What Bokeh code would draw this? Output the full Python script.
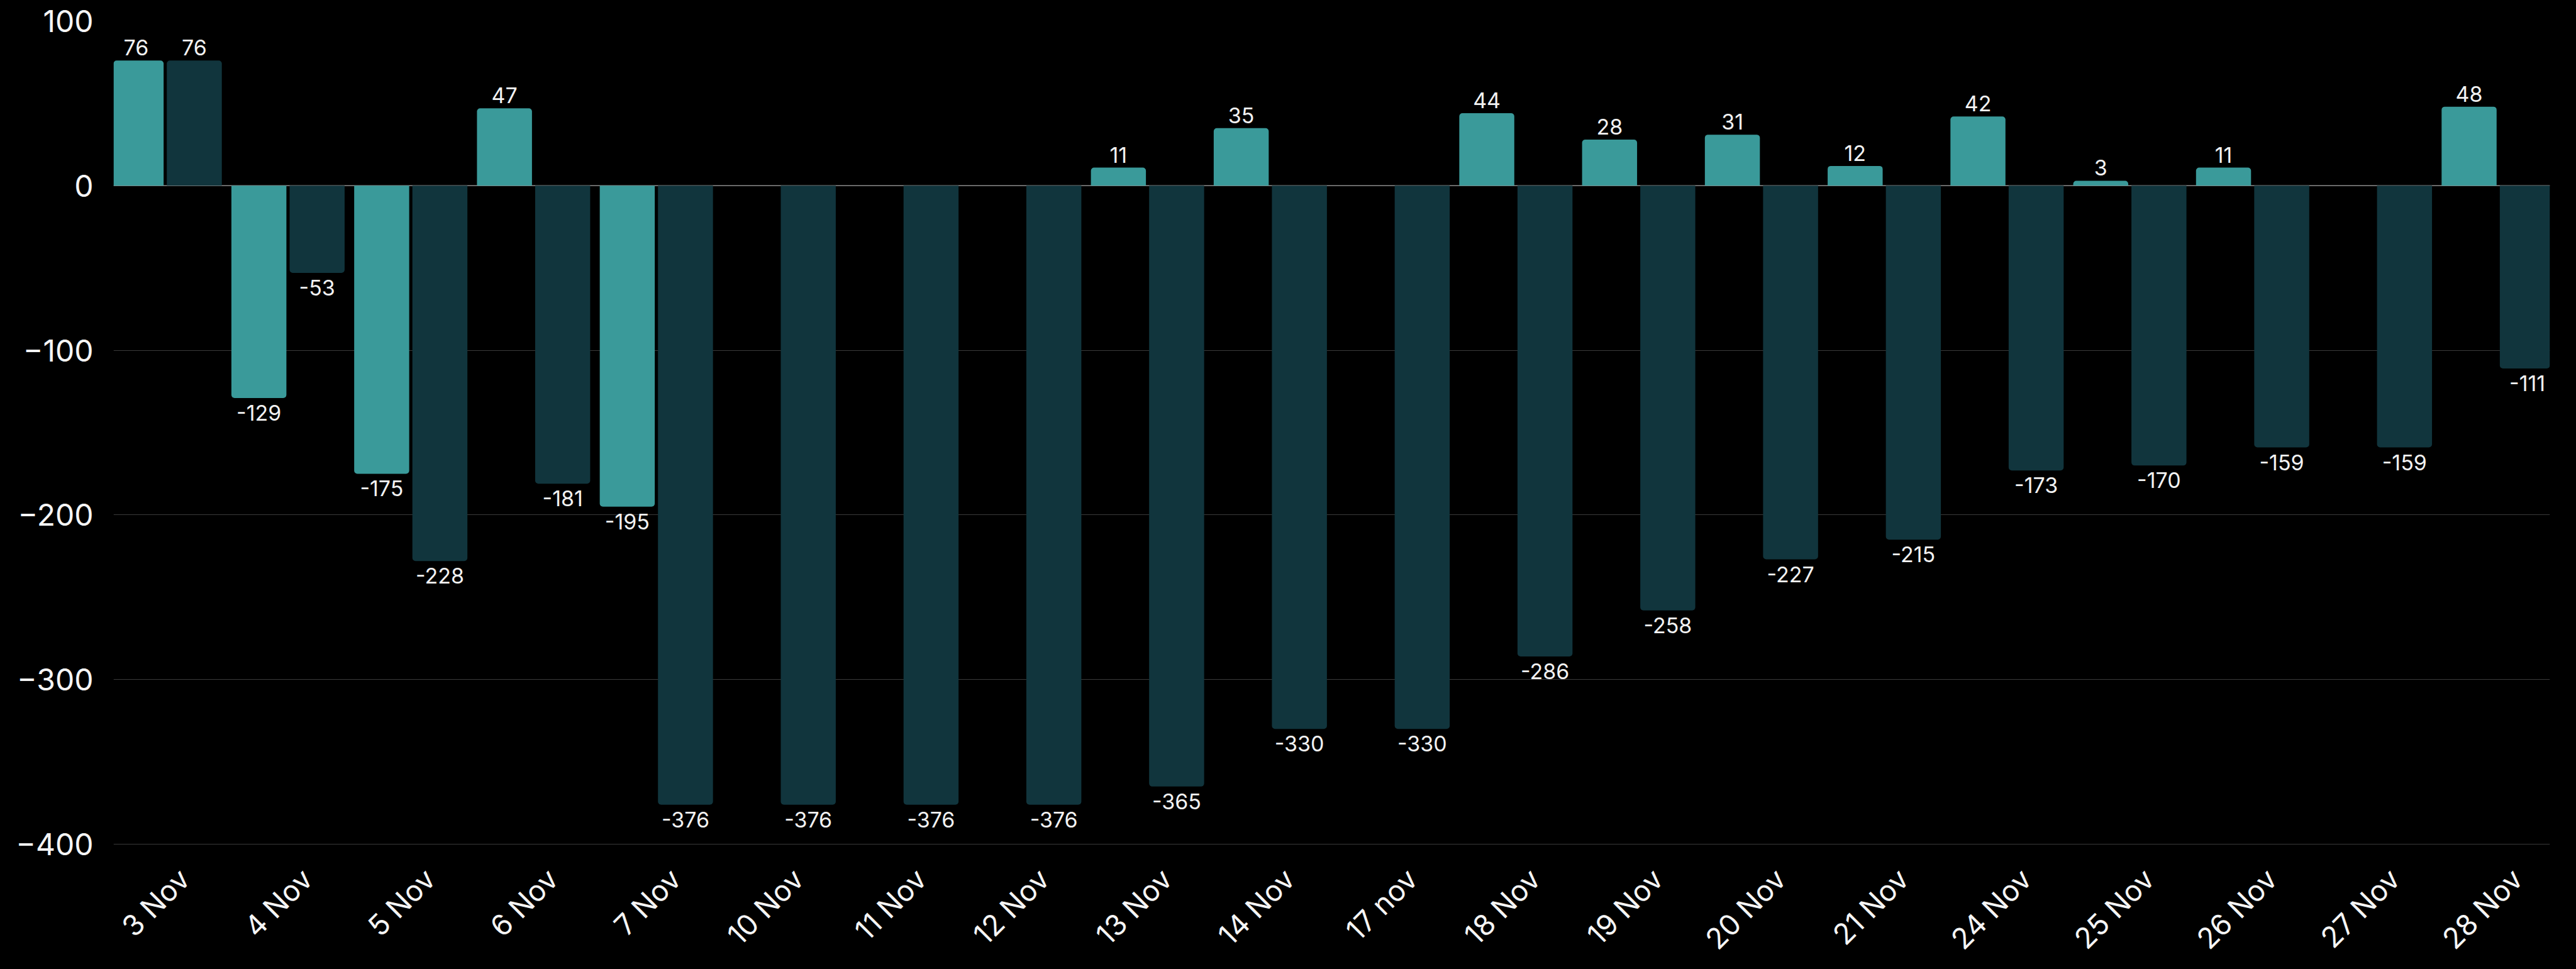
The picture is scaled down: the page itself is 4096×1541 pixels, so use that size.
import math
from bokeh.plotting import figure
from bokeh.models import ColumnDataSource, FactorRange, Range1d, Span, FixedTicker
from bokeh.transform import dodge
from bokeh.embed import file_html
from bokeh.resources import INLINE
from bokeh.core.properties import value

dates = ["3 Nov", "4 Nov", "5 Nov", "6 Nov", "7 Nov", "10 Nov", "11 Nov", "12 Nov",
         "13 Nov", "14 Nov", "17 nov", "18 Nov", "19 Nov", "20 Nov", "21 Nov",
         "24 Nov", "25 Nov", "26 Nov", "27 Nov", "28 Nov"]
series_a = [76, -129, -175, 47, -195, None, None, None, 11, 35, None, 44, 28, 31, 12,
            42, 3, 11, None, 48]
series_b = [76, -53, -228, -181, -376, -376, -376, -376, -365, -330, -330, -286, -258,
            -227, -215, -173, -170, -159, -159, -111]
y_ticks = [-400, -300, -200, -100, 0, 100]
Y_MIN, Y_MAX = -400, 100

LIGHT = "#3a9a9a"
DARK = "#11353d"
FONT = "Inter"

# layout (canvas pixels): frame top, the -400 line, canvas bottom
W, H = 4080, 1525
TOP, AXIS_Y = 33, 1342
per_px = (Y_MAX - Y_MIN) / (AXIS_Y - TOP)
y_start = Y_MIN - (H - AXIS_Y) * per_px   # room below the axis for the date labels

p = figure(width=W, height=H, output_backend="svg", toolbar_location=None,
           x_range=FactorRange(factors=dates, range_padding=-0.079,
                               range_padding_units="absolute"),
           y_range=Range1d(y_start, Y_MAX),
           x_axis_location=None,
           background_fill_color="black", border_fill_color="black",
           min_border_left=180, min_border_right=26, min_border_top=TOP,
           min_border_bottom=0)
p.outline_line_color = None


def split(vals):
    pos = dict(x=[], top=[], lab=[])
    neg = dict(x=[], bottom=[], lab=[])
    for d, v in zip(dates, vals):
        if v is None:
            continue
        if v >= 0:
            pos["x"].append(d); pos["top"].append(v); pos["lab"].append(str(v))
        else:
            neg["x"].append(d); neg["bottom"].append(v); neg["lab"].append(str(v))
    return ColumnDataSource(pos), ColumnDataSource(neg)


R = 5
for vals, off, color in ((series_a, -0.237, LIGHT), (series_b, 0.237, DARK)):
    pos, neg = split(vals)
    xd = dodge("x", off, range=p.x_range)
    p.vbar(x=xd, top="top", bottom=0, width=0.448, source=pos, fill_color=color,
           line_color=None, border_radius=(R, R, 0, 0))
    p.vbar(x=xd, top=0, bottom="bottom", width=0.448, source=neg, fill_color=color,
           line_color=None, border_radius=(0, 0, R, R))
    p.text(x=xd, y="top", text="lab", source=pos, text_align="center",
           text_baseline="bottom", y_offset=-8, text_color="#f2f2f2",
           text_font=value(FONT), text_font_size="34px")
    p.text(x=xd, y="bottom", text="lab", source=neg, text_align="center",
           text_baseline="top", y_offset=11, text_color="#f2f2f2",
           text_font=value(FONT), text_font_size="34px")

zero = Span(location=0, dimension="width", line_color="#8a8a8a", line_width=1.5,
            level="underlay")
p.add_layout(zero)

p.xgrid.grid_line_color = None
p.ygrid.grid_line_color = "#3a3a3a"
p.ygrid.grid_line_width = 1
p.yaxis.ticker = FixedTicker(ticks=y_ticks)

ax = p.yaxis[0]
ax.axis_line_color = None
ax.major_tick_line_color = None
ax.minor_tick_line_color = None
ax.major_tick_out = 0
ax.major_label_text_color = "#f5f5f5"
ax.major_label_text_font = FONT
ax.major_label_text_font_size = "48px"
ax.major_label_standoff = 32

# category (date) labels under the -400 line, rotated 45 degrees
cat_src = ColumnDataSource(dict(x=dates, y=[Y_MIN] * len(dates), lab=dates))
p.text(x="x", y="y", text="lab", source=cat_src, angle=math.pi / 4,
       text_align="right", text_baseline="middle", x_offset=30, y_offset=47,
       text_color="#f5f5f5", text_font=value(FONT), text_font_size="46px")

html = file_html(p, INLINE)
html = html.replace("</head>",
                    "<style>html, body { background-color: #000000; }</style>\n</head>", 1)
open("out.html", "w").write(html)
